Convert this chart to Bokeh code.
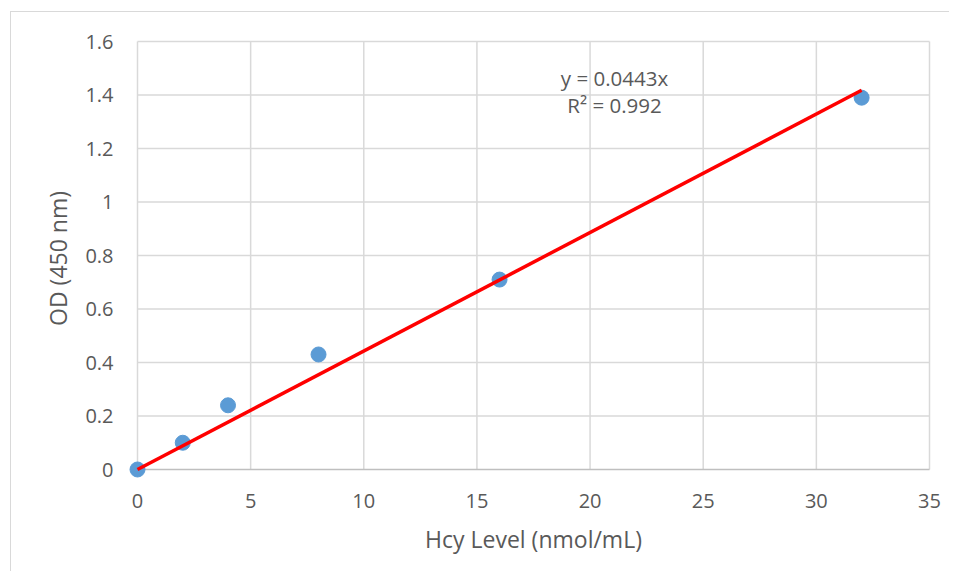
from bokeh.plotting import figure
from bokeh.models import FixedTicker, ColumnDataSource, Range1d
from bokeh.core.properties import value
from bokeh.embed import file_html
from bokeh.resources import INLINE

# data
hcy_level = [0, 2, 4, 8, 16, 32]
od_450 = [0.0, 0.10, 0.24, 0.43, 0.71, 1.39]
slope = 0.0443
r_squared = 0.992
trend_x = [0, 32]
trend_y = [slope * x for x in trend_x]
x_ticks = [0, 5, 10, 15, 20, 25, 30, 35]
y_ticks = [0, 0.2, 0.4, 0.6, 0.8, 1.0, 1.2, 1.4, 1.6]
y_tick_labels = ["0", "0.2", "0.4", "0.6", "0.8", "1", "1.2", "1.4", "1.6"]
eq_lines = ["y = 0.0443x", "R² = 0.992"]

FONT = "Open Sans"
GRID = "#d9d9d9"
AXIS = "#bfbfbf"
TXT = "#595959"

x_min, x_max = x_ticks[0], x_ticks[-1]
y_min, y_max = y_ticks[0], y_ticks[-1]
# padding so markers at the chart edge are not clipped (10 px)
px_per_x = 792 / (x_max - x_min)
px_per_y = 428 / (y_max - y_min)
pad_x = 10 / px_per_x
pad_y = 10 / px_per_y

p = figure(width=939, height=560,
           x_range=Range1d(x_min - pad_x, x_max + pad_x),
           y_range=Range1d(y_min - pad_y, y_max + pad_y),
           output_backend="svg", toolbar_location=None,
           min_border_left=116, min_border_right=11,
           min_border_top=19, min_border_bottom=93)
p.margin = (11, 0, 0, 10)
p.styles = {"border-left": "1px solid #d9d9d9", "border-top": "1px solid #d9d9d9"}
p.outline_line_color = None
p.background_fill_color = "white"
p.border_fill_color = "white"
p.xgrid.grid_line_color = None
p.ygrid.grid_line_color = None

p.xaxis.ticker = FixedTicker(ticks=x_ticks)
p.yaxis.ticker = FixedTicker(ticks=y_ticks)
p.yaxis.major_label_overrides = {t: l for t, l in zip(y_ticks, y_tick_labels)}
for ax in (p.xaxis, p.yaxis):
    ax.axis_line_color = None
    ax.major_tick_line_color = None
    ax.minor_tick_line_color = None
    ax.major_label_text_font = FONT
    ax.major_label_text_font_size = "20px"
    ax.major_label_text_color = TXT
    ax.axis_label_text_font = FONT
    ax.axis_label_text_font_size = "23px"
    ax.axis_label_text_color = TXT
    ax.axis_label_text_font_style = "normal"
p.xaxis.major_label_standoff = 8
p.yaxis.major_label_standoff = 8
p.xaxis.axis_label = "Hcy Level (nmol/mL)"
p.yaxis.axis_label = "OD  (450 nm)"
p.xaxis.axis_label_standoff = 12
p.yaxis.axis_label_standoff = 8

# gridlines drawn within the data extent
p.segment(x0=x_ticks, y0=[y_min] * len(x_ticks), x1=x_ticks, y1=[y_max] * len(x_ticks),
          line_color=GRID, line_width=1.5)
p.segment(x0=[x_min] * (len(y_ticks) - 1), y0=y_ticks[1:], x1=[x_max] * (len(y_ticks) - 1),
          y1=y_ticks[1:], line_color=GRID, line_width=1.5)
# horizontal axis line
p.segment(x0=[x_min], y0=[y_min], x1=[x_max], y1=[y_min], line_color=AXIS, line_width=1.5)

src = ColumnDataSource(dict(x=hcy_level, y=od_450))
p.scatter("x", "y", source=src, size=15, fill_color="#5b9bd5", line_color="#5b9bd5")
p.line(trend_x, trend_y, line_color="#ff0000", line_width=3.5)

p.text(x=[21.08, 21.08], y=[1.465, 1.361], text=eq_lines,
       text_font=value(FONT), text_font_size="20.5px", text_color=TXT,
       text_align="center", text_baseline="middle")

open("out.html", "w").write(file_html(p, INLINE))
